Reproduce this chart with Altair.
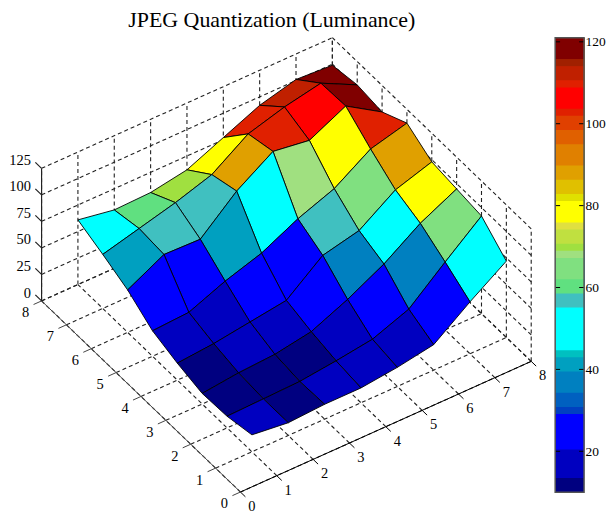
import altair as alt

# JPEG luminance quantization table; outer index = x position, inner = y position
Z = [
    [16, 11, 10, 16, 24, 40, 51, 61],
    [12, 12, 14, 19, 26, 58, 60, 55],
    [14, 13, 16, 24, 40, 57, 69, 56],
    [14, 17, 22, 29, 51, 87, 80, 62],
    [18, 22, 37, 56, 68, 109, 103, 77],
    [24, 35, 55, 64, 81, 104, 113, 92],
    [49, 64, 78, 87, 103, 121, 120, 101],
    [72, 92, 95, 98, 112, 100, 103, 99],
]
# colormap: (colour, number of bands), low values first
BANDS = [
    ("#000080", 2), ("#0000c0", 4), ("#0000ff", 5), ("#0040c0", 1), ("#0060c0", 2),
    ("#0080c0", 3), ("#00a0c0", 2), ("#00c0c0", 1), ("#00ffff", 6), ("#40c0c0", 2),
    ("#60e080", 2), ("#80e080", 3), ("#a0e080", 1), ("#a0e040", 1), ("#c0e040", 2),
    ("#e0e040", 1), ("#ffff00", 3), ("#e0e000", 1), ("#e0c000", 2), ("#e0a000", 2),
    ("#e08000", 3), ("#e06000", 2), ("#e04000", 2), ("#e02000", 1), ("#ff0000", 3),
    ("#e02000", 1), ("#c02000", 2), ("#a02000", 1), ("#800000", 3),
]
COLORS = [c for c, n in BANDS for _ in range(n)]
C_MIN, C_MAX = 10, 121
XY_TICKS = list(range(9))
Z_TICKS = [0, 25, 50, 75, 100, 125]
CBAR_TICKS = [20, 40, 60, 80, 100, 120]
TITLE = "JPEG Quantization (Luminance)"

FONT = "Liberation Serif"
OX, OY = 8, 36  # page position of the left panel's origin


def proj(x, y, z=0):
    return [241.2 + 36.47 * x - 24.94 * y - OX,
            491.8 - 16.39 * x - 23.97 * y - 1.064 * z - OY]


def line(*pts):
    return {"type": "Feature", "geometry": {"type": "LineString", "coordinates": [proj(*p) for p in pts]}}


# surface facets, far ones first; each facet takes the colour of its lowest corner
cells = []
for i in sorted(range(7), reverse=True):
    for j in sorted(range(7), reverse=True):
        ring = [proj(i + 1, j + 1, Z[i][j]), proj(i + 2, j + 1, Z[i + 1][j]),
                proj(i + 2, j + 2, Z[i + 1][j + 1]), proj(i + 1, j + 2, Z[i][j + 1]),
                proj(i + 1, j + 1, Z[i][j])]
        cells.append((i + j, {"type": "Feature", "value": Z[i][j],
                              "geometry": {"type": "Polygon", "coordinates": [ring]}}))
cells = [c for _, c in sorted(cells, key=lambda t: -t[0])]

zt = Z_TICKS[-1]
grid = []
for t in XY_TICKS:
    grid.append(line((t, 0), (t, 8)))
    grid.append(line((0, t), (8, t)))
    grid.append(line((t, 8, 0), (t, 8, zt)))
    grid.append(line((8, t, 0), (8, t, zt)))
for z in Z_TICKS:
    grid.append(line((0, 8, z), (8, 8, z)))
    grid.append(line((8, 0, z), (8, 8, z)))

axis_x = [line((0, 0), (8, 0))] + [line((t, 0), (t, -0.2)) for t in XY_TICKS]
axis_y = [line((0, 0), (0, 8))] + [line((0, t), (-0.22, t)) for t in XY_TICKS]
axis_z = [line((0, 8, 0), (0, 8, zt))] + [line((0, 8, z), (0, 8.25, z)) for z in Z_TICKS]


def label_rows(items, dx, dy):
    rows = []
    for text, p in items:
        px = proj(*p)
        rows.append({"lon": px[0] + dx, "lat": px[1] + dy, "label": str(text)})
    return rows


x_labels = label_rows([(t, (t, 0)) for t in XY_TICKS], 11.5, 15)
y_labels = label_rows([(t, (0, t)) for t in XY_TICKS], -16, 12.5)
z_labels = label_rows([(z, (0, 8, z)) for z in Z_TICKS], -10.7, -7.4)

projection = dict(type="identity", scale=1, translate=[0, 0])
color_scale = alt.Scale(type="quantize", domain=[C_MIN, C_MAX], range=COLORS)


def lines(features, stroke, width, dash=None):
    kw = {"strokeDash": dash} if dash else {}
    return alt.Chart(alt.Data(values=features)).mark_geoshape(
        filled=False, stroke=stroke, strokeWidth=width, clip=False, **kw).project(**projection)


def labels(rows, align):
    return alt.Chart(alt.Data(values=rows)).mark_text(
        font=FONT, fontSize=14.5, color="#000000", align=align, baseline="middle", clip=False
    ).encode(longitude="lon:Q", latitude="lat:Q", text="label:N").project(**projection)


surface = alt.Chart(alt.Data(values=cells)).mark_geoshape(
    stroke="#000000", strokeWidth=0.9, clip=False
).encode(
    color=alt.Color("value:Q", scale=color_scale, legend=None)
).project(**projection)

left = alt.layer(
    lines(grid, "#222222", 1.1, [4, 3]),
    lines(axis_x, "#000000", 1),
    lines(axis_y, "#444444", 1),
    lines(axis_z, "#222222", 1.2),
    surface,
    labels(x_labels, "center"),
    labels(y_labels, "center"),
    labels(z_labels, "right"),
).properties(width=548, height=456, view=alt.ViewBackground(stroke=None))

# colour bar: each band runs up to the top and is overpainted by the next, so no seams show
step = (C_MAX - C_MIN) / len(COLORS)
bar_rows = [{"lo": C_MIN + k * step, "hi": C_MAX, "mid": C_MIN + (k + 0.5) * step}
            for k in range(len(COLORS))]
y_scale = alt.Scale(domain=[C_MIN, C_MAX], nice=False, zero=False)
x_scale = alt.Scale(domain=[0, 1], nice=False)
no_x = alt.Axis(labels=False, ticks=False, domain=False, grid=False, title=None)

bar = alt.Chart(alt.Data(values=bar_rows)).mark_rect().transform_calculate(
    x0="0", x1="1"
).encode(
    x=alt.X("x0:Q", scale=x_scale, axis=no_x),
    x2="x1:Q",
    y=alt.Y("lo:Q", scale=y_scale, axis=alt.Axis(
        orient="right", values=CBAR_TICKS, tickSize=0, domain=False, grid=False, title=None,
        labelFont=FONT, labelFontSize=13.5, labelColor="#000000", labelPadding=1)),
    y2="hi:Q",
    color=alt.Color("mid:Q", scale=color_scale, legend=None),
)
tick_rows = [{"v": v, "a": a, "b": b} for v in CBAR_TICKS for a, b in ((0, 0.17), (0.83, 1))]
bar_ticks = alt.Chart(alt.Data(values=tick_rows)).mark_rule(color="#000000", strokeWidth=1).encode(
    x=alt.X("a:Q", scale=x_scale, axis=no_x), x2="b:Q", y=alt.Y("v:Q", scale=y_scale))
frame = alt.Chart(alt.Data(values=[{"lo": C_MIN, "hi": C_MAX}])).mark_rect(
    fillOpacity=0, stroke="#555555", strokeWidth=1.5
).transform_calculate(x0="0", x1="1").encode(
    x=alt.X("x0:Q", scale=x_scale, axis=no_x), x2="x1:Q",
    y=alt.Y("lo:Q", scale=y_scale), y2="hi:Q")
right = alt.layer(bar, bar_ticks, frame).properties(
    width=29, height=456, view=alt.ViewBackground(stroke=None))

chart = alt.hconcat(left, right, spacing=0).resolve_scale(color="independent").properties(
    padding=0,
    title=alt.TitleParams(TITLE, font=FONT, fontSize=22, fontWeight="normal", color="#000000",
                          anchor="middle", dx=-35, dy=-1, offset=2),
)
chart.save("out.html", embed_options={"renderer": "svg", "actions": False})
